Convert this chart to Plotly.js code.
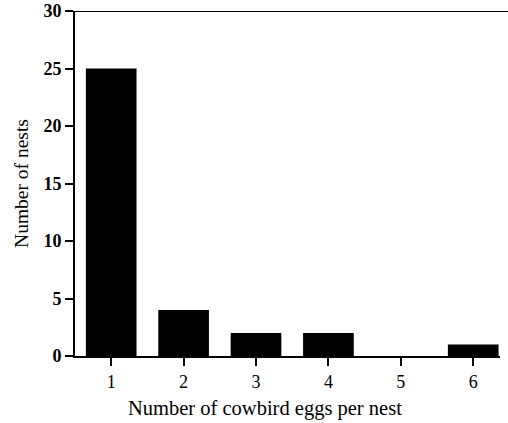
<!DOCTYPE html>
<html><head><meta charset="utf-8">
<script src="https://cdn.plot.ly/plotly-3.0.1.min.js"></script>
<style>body{margin:0;padding:0;background:#fff}#chart{width:508px;height:423px}</style>
</head><body><div id="chart"></div>
<script>
const eggsPerNest = [1, 2, 3, 4, 5, 6];
const nestCounts = [25, 4, 2, 2, 0, 1];
const yTicks = [0, 5, 10, 15, 20, 25, 30];
const xTitle = 'Number of cowbird eggs per nest';

const font = {family: '"Liberation Serif", "Times New Roman", serif', color: '#000'};

Plotly.newPlot('chart', [{
  type: 'bar', x: eggsPerNest, y: nestCounts, width: 0.7,
  marker: {color: '#000', line: {width: 0}}
}], {
  width: 508, height: 423,
  margin: {l: 75, r: 8, t: 11, b: 67},
  paper_bgcolor: '#fff', plot_bgcolor: '#fff',
  showlegend: false,
  xaxis: {
    range: [0.5, 6.37], tickvals: eggsPerNest, ticktext: eggsPerNest.map(String),
    showline: true, linecolor: '#000', linewidth: 2, showgrid: false, zeroline: false,
    ticks: 'outside', ticklen: 8, tickwidth: 2, tickcolor: '#000',
    tickfont: Object.assign({size: 18}, font)
  },
  yaxis: {
    range: [0, 30], tickvals: yTicks,
    showline: true, linecolor: '#000', linewidth: 2, showgrid: false, zeroline: false,
    ticks: 'outside', ticklen: 8, tickwidth: 2, tickcolor: '#000',
    tickfont: Object.assign({size: 18, weight: 'bold'}, font),
    title: {text: 'Number of nests', font: Object.assign({size: 19.5}, font), standoff: 10}
  },
  annotations: [{text: xTitle, xref: 'paper', yref: 'paper', x: 0.447, y: 0,
    xanchor: 'center', yanchor: 'middle', yshift: -52, showarrow: false,
    font: Object.assign({size: 20.5}, font)}],
  shapes: [{type: 'line', xref: 'paper', yref: 'y', x0: -0.01, x1: 1.02, y0: 30, y1: 30,
    line: {color: '#000', width: 2}}]
}, {displayModeBar: false});
</script></body></html>
